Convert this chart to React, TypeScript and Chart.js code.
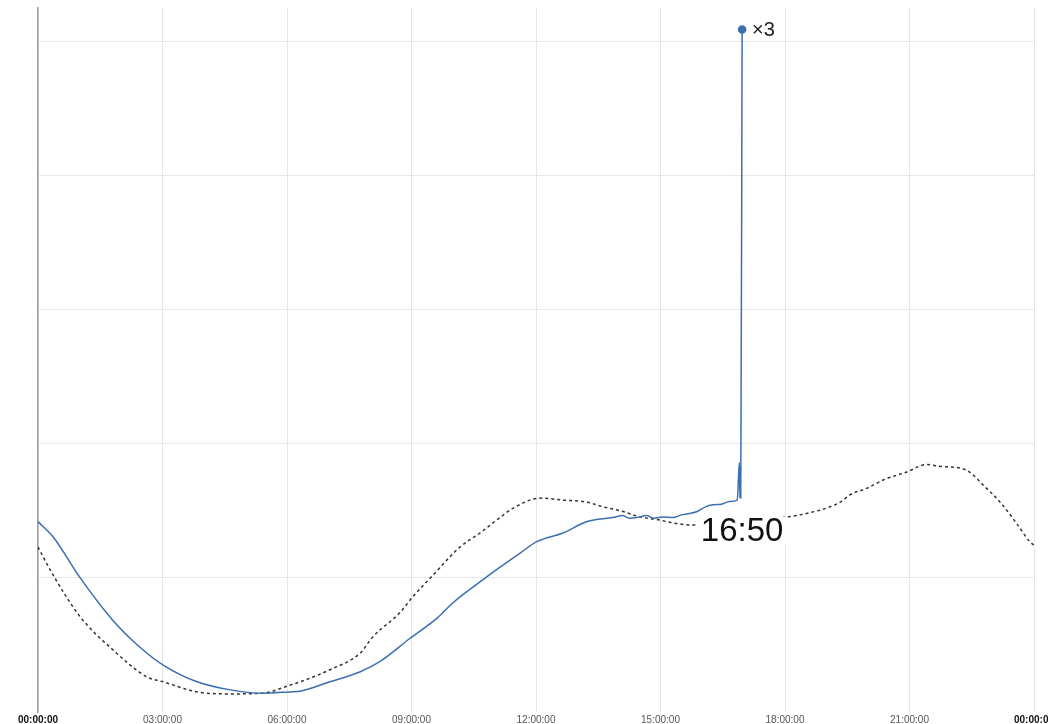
import React, { useEffect, useRef } from "react";
import { Chart, registerables } from "chart.js";

Chart.register(...registerables);

// x in minutes since 00:00
const blueTimes = [
  0, 22, 61, 108, 147, 181, 230, 278, 325, 364, 379, 422, 466, 494, 538, 577, 600, 639,
  668, 697, 721, 759, 794, 831, 845, 855, 866, 880, 890, 904, 918, 930, 942, 953, 965,
  976, 988, 1000, 1011, 1014, 1015, 1016, 1018,
];
const blueValues = [
  28.4, 26.1, 20.0, 13.7, 9.7, 7.0, 4.5, 3.3, 2.8, 3.0, 3.1, 4.5, 6.0, 7.5, 11.0, 14.0, 16.3, 19.4,
  21.6, 23.7, 25.4, 26.7, 28.4, 29.0, 29.3, 28.9, 29.0, 29.3, 28.9, 29.1, 29.0, 29.4, 29.6, 29.9, 30.6,
  30.9, 31.0, 31.4, 31.6, 37.2, 32.1, 31.9, 101.8,
];

const dashTimes = [
  0, 22, 61, 108, 158, 181, 230, 278, 325, 364, 379, 422, 466, 484, 523, 542, 571, 610,
  639, 664, 687, 726, 759, 794, 817, 846, 870, 895, 918, 943, 957, 1000, 1040, 1076,
  1102, 1160, 1174, 1199, 1222, 1256, 1285, 1308, 1333, 1348, 1366, 1391, 1415, 1434, 1440,
];
const dashValues = [
  24.6, 20.4, 14.2, 9.3, 5.2, 4.5, 3.0, 2.7, 2.8, 4.0, 4.5, 6.3, 8.8, 11.2, 14.8, 17.2, 20.4, 24.6,
  26.7, 28.7, 30.4, 31.9, 31.6, 31.3, 30.6, 29.9, 29.1, 28.7, 28.2, 27.9, 27.9, 28.0, 28.4, 29.0,
  29.4, 31.3, 32.4, 33.4, 34.6, 35.8, 36.9, 36.6, 36.4, 35.7, 33.9, 31.3, 28.1, 25.4, 24.9,
];

const xTicks = [0, 180, 360, 540, 720, 900, 1080, 1260, 1440];
const spikeLabel = "×3";
const timeLabel = "16:50";
const timeLabelValue = 27;

function fmt(m: number) {
  const h = Math.floor((m % 1440) / 60);
  const mm = m % 60;
  return `${String(h).padStart(2, "0")}:${String(mm).padStart(2, "0")}:00`;
}

export default function App() {
  const ref = useRef<HTMLCanvasElement>(null);
  useEffect(() => {
    document.body.style.margin = "0";
    const labelPlugin = {
      id: "labels",
      afterDatasetsDraw(chart: any) {
        const ctx = chart.ctx;
        const meta = chart.getDatasetMeta(0);
        const last = meta.data[meta.data.length - 1];
        if (!last) return;
        const x = last.x;
        const y = last.y;
        ctx.save();
        ctx.fillStyle = "#222";
        ctx.font = "20px 'Liberation Sans', Arial, sans-serif";
        ctx.textAlign = "left";
        ctx.textBaseline = "middle";
        ctx.fillText(spikeLabel, x + 10, y + 1);
        const ty = chart.scales.y.getPixelForValue(timeLabelValue);
        ctx.font = "33px 'Liberation Sans', Arial, sans-serif";
        const w = ctx.measureText(timeLabel).width;
        ctx.fillStyle = "#fff";
        ctx.fillRect(x - w / 2 - 3, ty - 14, w + 6, 28);
        ctx.fillStyle = "#111";
        ctx.textAlign = "center";
        ctx.fillText(timeLabel, x, ty + 1);
        ctx.restore();
      },
    };
    const chart = new Chart(ref.current!, {
      type: "line",
      data: {
        datasets: [
          {
            data: blueTimes.map((t, i) => ({ x: t, y: blueValues[i] })),
            borderColor: "#3b6fb0",
            backgroundColor: "#3b6fb0",
            borderWidth: 1.5,
            pointRadius: (c: any) => (c.dataIndex === blueTimes.length - 1 ? 3.5 : 0),
            pointHoverRadius: 0,
            cubicInterpolationMode: "monotone",
            order: 0,
          },
          {
            data: dashTimes.map((t, i) => ({ x: t, y: dashValues[i] })),
            borderColor: "#333",
            borderWidth: 1.5,
            borderDash: [3, 3],
            pointRadius: 0,
            cubicInterpolationMode: "monotone",
            order: 1,
          },
        ],
      },
      options: {
        responsive: false,
        animation: false,
        layout: { padding: { left: 38, right: 14, top: 8, bottom: 0 } },
        plugins: { legend: { display: false }, tooltip: { enabled: false } },
        scales: {
          x: {
            type: "linear",
            min: 0,
            max: 1440,
            afterBuildTicks: (s: any) => {
              s.ticks = xTicks.map((v) => ({ value: v }));
            },
            afterFit: (s: any) => {
              s.paddingLeft = 0;
              s.paddingRight = 0;
              s.height = 12;
            },
            grid: { color: "#e6e6e6", lineWidth: 1, drawTicks: false },
            border: { display: false },
            ticks: {
              autoSkip: false,
              maxRotation: 0,
              padding: 2,
              callback: (v: any) => fmt(Number(v)),
              color: (c: any) => (c.tick && c.tick.value % 1440 === 0 ? "#111" : "#555"),
              font: (c: any) => ({
                size: 10,
                family: "'Liberation Sans', Arial, sans-serif",
                weight: c.tick && c.tick.value % 1440 === 0 ? "bold" : "normal",
              }),
            },
          },
          y: {
            type: "linear",
            min: 0,
            max: 105,
            afterFit: (s: any) => {
              s.width = 0;
            },
            ticks: { display: false, stepSize: 20, includeBounds: false },
            grid: {
              drawTicks: false,
              color: (c: any) => (c.tick && c.tick.value === 0 ? "rgba(0,0,0,0)" : "#e8e8e8"),
            },
            border: { display: true, color: "#9a9a9a", width: 1.5 },
          },
        },
      },
      plugins: [labelPlugin],
    } as any);
    return () => chart.destroy();
  }, []);
  return (
    <div style={{ width: 1048, height: 724 }}>
      <canvas ref={ref} width={1048} height={724} />
    </div>
  );
}
